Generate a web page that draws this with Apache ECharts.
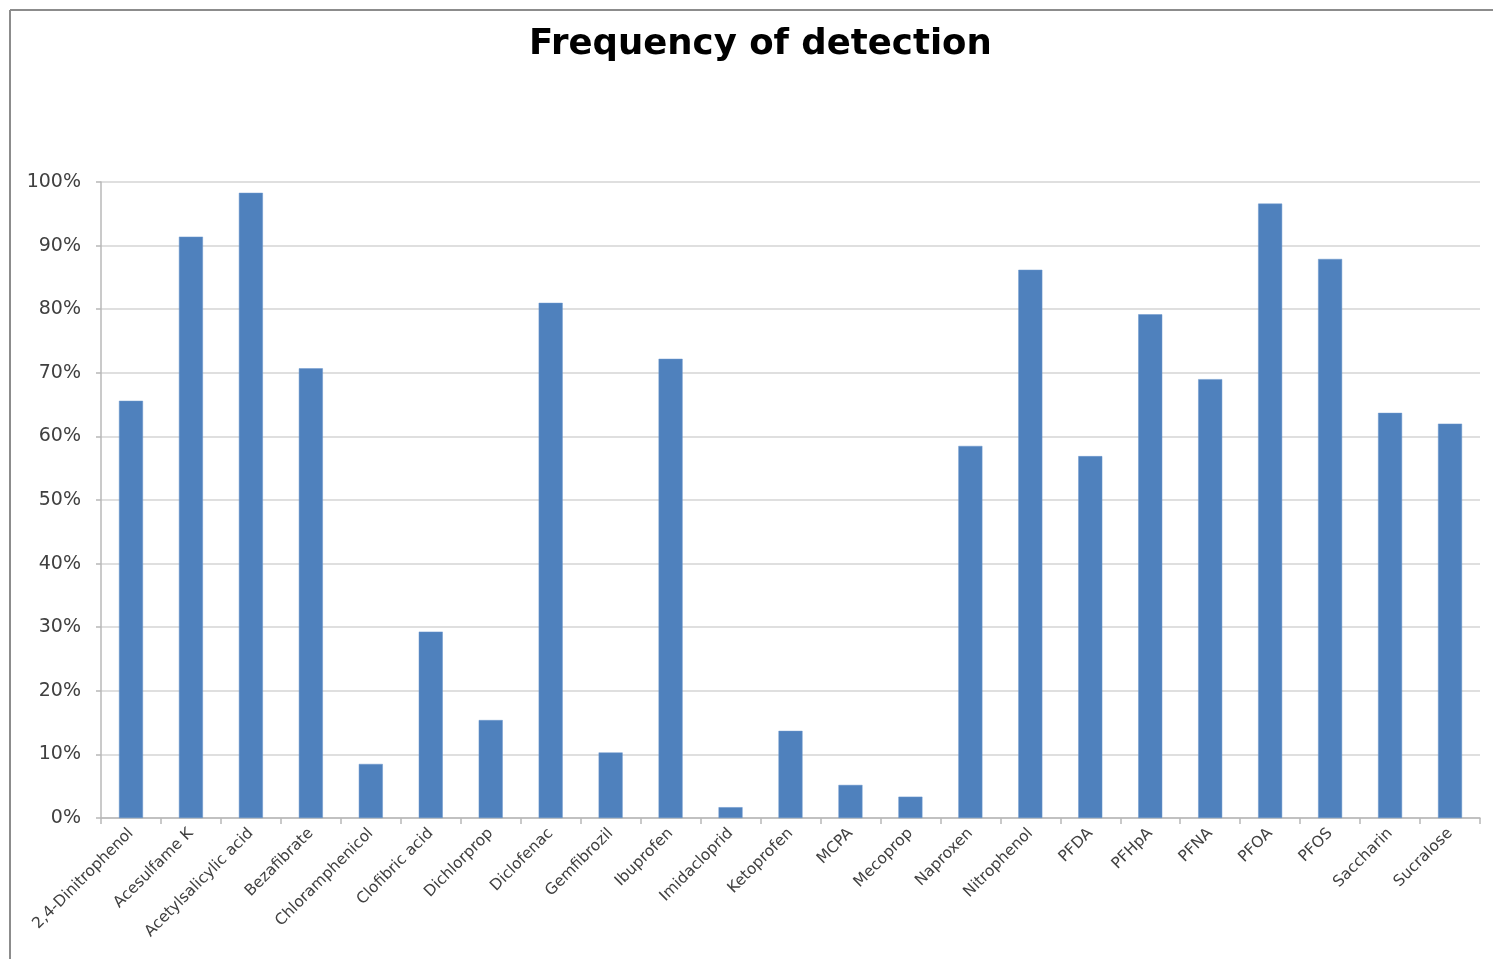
<!DOCTYPE html>
<html>
<head>
<meta charset="utf-8">
<script src="https://cdn.jsdelivr.net/npm/echarts@6/dist/echarts.min.js"></script>
<style>
  html, body { margin: 0; padding: 0; background: #fff; }
  #chart { width: 1493px; height: 959px; }
</style>
</head>
<body>
<div id="chart"></div>
<script>
// Compounds measured and the share of samples in which each was detected (%)
const compounds = [
  '2,4-Dinitrophenol', 'Acesulfame K', 'Acetylsalicylic acid', 'Bezafibrate',
  'Chloramphenicol', 'Clofibric acid', 'Dichlorprop', 'Diclofenac', 'Gemfibrozil',
  'Ibuprofen', 'Imidacloprid', 'Ketoprofen', 'MCPA', 'Mecoprop', 'Naproxen',
  'Nitrophenol', 'PFDA', 'PFHpA', 'PFNA', 'PFOA', 'PFOS', 'Saccharin', 'Sucralose'
];
const detectionPct = [
  65.6, 91.4, 98.3, 70.7,
  8.5, 29.3, 15.4, 81.0, 10.3,
  72.2, 1.7, 13.7, 5.2, 3.35, 58.5,
  86.2, 56.9, 79.2, 69.0, 96.6, 87.9, 63.7, 62.0
];
const yTicks = [0, 10, 20, 30, 40, 50, 60, 70, 80, 90, 100];

const chart = echarts.init(document.getElementById('chart'));
const font = 'DejaVu Sans, Verdana, sans-serif';

chart.setOption({
  animation: false,
  backgroundColor: '#ffffff',
  title: {
    text: 'Frequency of detection',
    left: 524,
    top: 22,
    textStyle: { fontFamily: font, fontWeight: 'bold', fontSize: 35.5, color: '#000' }
  },
  graphic: [
    { type: 'line', shape: { x1: 10, y1: 10, x2: 1493, y2: 10 }, style: { stroke: '#8c8c8c', lineWidth: 2 } },
    { type: 'line', shape: { x1: 10, y1: 10, x2: 10, y2: 959 }, style: { stroke: '#8c8c8c', lineWidth: 2 } }
  ],
  grid: { left: 101, right: 13, top: 182, bottom: 141, containLabel: false },
  xAxis: {
    type: 'category',
    data: compounds,
    boundaryGap: true,
    axisLine: { lineStyle: { color: '#b8b8b8', width: 1.5 } },
    axisTick: { show: true, alignWithLabel: false, length: 6, lineStyle: { color: '#b8b8b8', width: 1.5 } },
    axisLabel: {
      interval: 0,
      rotate: 45,
      margin: 13,
      fontFamily: font,
      fontSize: 15.5,
      color: '#404040'
    }
  },
  yAxis: {
    type: 'value',
    min: yTicks[0],
    max: yTicks[yTicks.length - 1],
    interval: 10,
    axisLine: { show: true, lineStyle: { color: '#b8b8b8', width: 1.5 } },
    axisTick: { show: true, length: 5, lineStyle: { color: '#b8b8b8', width: 1.5 } },
    splitLine: { lineStyle: { color: '#d4d4d4', width: 1.5 } },
    axisLabel: {
      formatter: v => v + '%',
      margin: 20,
      fontFamily: font,
      fontSize: 19,
      color: '#404040'
    }
  },
  series: [{
    type: 'bar',
    data: detectionPct,
    barWidth: 24,
    itemStyle: { color: '#4f81bd', borderColor: '#6a96cc', borderWidth: 0.5 }
  }]
});
</script>
</body>
</html>
